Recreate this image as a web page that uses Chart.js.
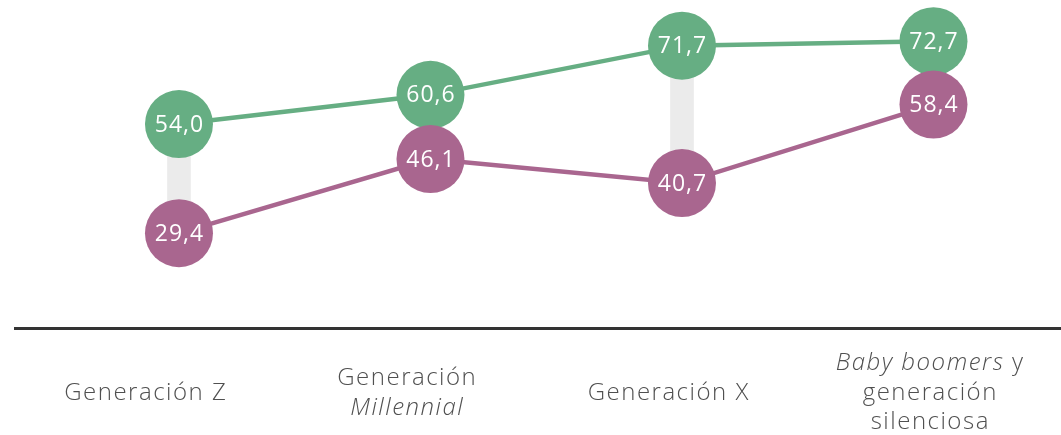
<!DOCTYPE html>
<html>
<head>
<meta charset="utf-8">
<script src="https://cdn.jsdelivr.net/npm/chart.js@4"></script>
<style>
  html, body { margin: 0; padding: 0; background: #fff; }
  #wrap { width: 1061px; height: 435px; position: relative; }
</style>
</head>
<body>
<div id="wrap"><canvas id="genChart"></canvas></div>
<script>
// categories (lines, *...* = italic)
const categories = [
    ['Generación Z'],
    ['Generación', '*Millennial*'],
    ['Generación X'],
    ['*Baby boomers* y', 'generación', 'silenciosa']
];
const pointPos = [0, 1, 2, 3];
const greenValues = [54.0, 60.6, 71.7, 72.7];
const purpleValues = [29.4, 46.1, 40.7, 58.4];

const green = '#66ae83';
const purple = '#a9668f';
const fontName = '"Open Sans", "Noto Sans", sans-serif';

const fmt = v => v.toFixed(1).replace('.', ',');

// white numbers inside the circles
const pointLabels = {
    id: 'pointLabels',
    afterDatasetsDraw(chart) {
        const ctx = chart.ctx;
        ctx.save();
        ctx.fillStyle = '#fff';
        ctx.font = '400 23px ' + fontName;
        ctx.letterSpacing = '1px';
        ctx.textAlign = 'center';
        ctx.textBaseline = 'middle';
        [1, 2].forEach(i => {
            const meta = chart.getDatasetMeta(i);
            meta.data.forEach((pt, j) => {
                ctx.fillText(fmt(chart.data.datasets[i].data[j].y), pt.x + 0.5, pt.y + 1);
            });
        });
        ctx.restore();
    }
};

// category labels with italic parts
const catLabels = {
    id: 'catLabels',
    afterDraw(chart) {
        const ctx = chart.ctx;
        const xs = chart.scales.x;
        const lh = 29.5, mid = 393;
        ctx.save();
        ctx.fillStyle = '#505050';
        ctx.textBaseline = 'middle';
        ctx.textAlign = 'left';
        ctx.letterSpacing = '1.5px';
        categories.forEach((lines, i) => {
            const cx = xs.getPixelForValue(i);
            lines.forEach((line, k) => {
                const y = mid + (k - (lines.length - 1) / 2) * lh;
                const parts = line.split('*');
                const fonts = parts.map((p, n) => (n % 2 ? 'italic ' : '') + '300 24px ' + fontName);
                let w = 0;
                parts.forEach((p, n) => { ctx.font = fonts[n]; w += ctx.measureText(p).width; });
                let x = cx - w / 2;
                parts.forEach((p, n) => {
                    ctx.font = fonts[n];
                    ctx.fillText(p, x, y);
                    x += ctx.measureText(p).width;
                });
            });
        });
        ctx.restore();
    }
};

const ctx = document.getElementById('genChart').getContext('2d');
const config = {
    type: 'line',
    data: {
        labels: categories.map(c => c.join(' ').replace(/\*/g, '')),
        datasets: [
            {
                type: 'bar',
                xAxisID: 'xp',
                data: pointPos.map((x, i) => ({ x: x, y: [purpleValues[i], greenValues[i]] })),
                backgroundColor: '#ebebeb',
                barThickness: 23,
                order: 3
            },
            {
                xAxisID: 'xp',
                data: pointPos.map((x, i) => ({ x: x, y: greenValues[i] })),
                borderColor: green,
                backgroundColor: green,
                borderWidth: 4.5,
                pointRadius: 34,
                pointBorderWidth: 0,
                pointBackgroundColor: green,
                clip: false,
                order: 2
            },
            {
                xAxisID: 'xp',
                data: pointPos.map((x, i) => ({ x: x, y: purpleValues[i] })),
                borderColor: purple,
                backgroundColor: purple,
                borderWidth: 4.5,
                pointRadius: 34,
                pointBorderWidth: 0,
                pointBackgroundColor: purple,
                clip: false,
                order: 1
            }
        ]
    },
    options: {
        responsive: true,
        maintainAspectRatio: false,
        animation: false,
        layout: { autoPadding: false, padding: { left: 15, right: 0, top: 0, bottom: 0 } },
        plugins: {
            legend: { display: false },
            tooltip: { enabled: false }
        },
        scales: {
            x: {
                type: 'category',
                offset: true,
                grid: { display: false },
                border: { display: true, color: '#333', width: 3 },
                ticks: { display: false },
                afterFit: s => { s.height = 107; }
            },
            xp: {
                type: 'linear',
                display: false,
                offset: false,
                min: -0.652,
                max: 3.507
            },
            y: {
                display: false,
                min: 8,
                max: 82
            }
        }
    },
    plugins: [pointLabels, catLabels]
};
const genChart = new Chart(ctx, config);
</script>
</body>
</html>
